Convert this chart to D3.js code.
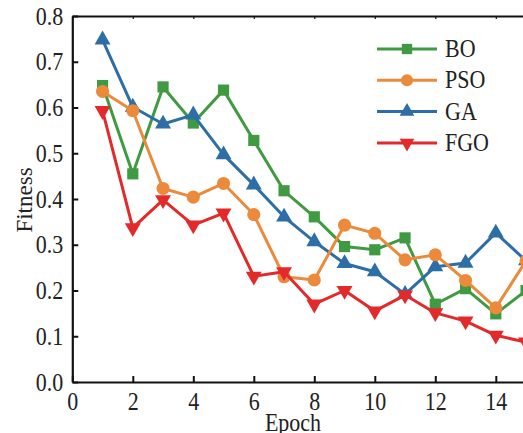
<!DOCTYPE html>
<html>
<head>
<meta charset="utf-8">
<script src="https://cdn.jsdelivr.net/npm/d3@7"></script>
<style>
  html, body { margin: 0; padding: 0; background: #fff; overflow: hidden; }
  svg { display: block; }
  text { font-family: "Liberation Serif", "Times New Roman", serif; fill: #222; }
</style>
</head>
<body>
<svg id="chart" width="523" height="433"></svg>
<script>
// Fitness per epoch for each optimiser
const epochs = [1, 2, 3, 4, 5, 6, 7, 8, 9, 10, 11, 12, 13, 14, 15];
const boValues  = [0.648, 0.455, 0.645, 0.566, 0.638, 0.528, 0.418, 0.361, 0.296, 0.289, 0.315, 0.170, 0.204, 0.149, 0.200];
const psoValues = [0.635, 0.593, 0.423, 0.404, 0.434, 0.366, 0.230, 0.223, 0.343, 0.325, 0.267, 0.278, 0.222, 0.162, 0.265];
const gaValues  = [0.748, 0.601, 0.564, 0.584, 0.497, 0.431, 0.361, 0.307, 0.259, 0.241, 0.192, 0.252, 0.260, 0.326, 0.265];
const fgoValues = [0.593, 0.337, 0.398, 0.343, 0.369, 0.231, 0.241, 0.170, 0.200, 0.155, 0.190, 0.151, 0.133, 0.102, 0.087];

const seriesNames = ["BO", "PSO", "GA", "FGO"];
const xTicks = [0, 2, 4, 6, 8, 10, 12, 14];
const yTicks = [0.0, 0.1, 0.2, 0.3, 0.4, 0.5, 0.6, 0.7, 0.8];

const series = [
  { name: "BO",  values: boValues,  color: "#3f9a42", symbol: d3.symbolSquare,   size: 125, rotate: 0 },
  { name: "PSO", values: psoValues, color: "#ec8a3c", symbol: d3.symbolCircle,   size: 135, rotate: 0 },
  { name: "GA",  values: gaValues,  color: "#2d6ea6", symbol: d3.symbolTriangle, size: 110, rotate: 0 },
  { name: "FGO", values: fgoValues, color: "#e3292a", symbol: d3.symbolTriangle, size: 110, rotate: 180 }
];
// drawing order (later on top)
const drawOrder = ["BO", "GA", "PSO", "FGO"];

const svg = d3.select("#chart");
const plotLeft = 72.3, plotTop = 16, plotBottom = 382, unit = 30.25;

const x = d3.scaleLinear().domain([0, 16]).range([plotLeft, plotLeft + 16 * unit]);
const y = d3.scaleLinear().domain([0, 0.8]).range([plotBottom, plotTop]);

const fontSize = 22;

// x axis
const gx = svg.append("g")
  .attr("transform", `translate(0,${plotBottom})`)
  .call(d3.axisBottom(x).tickValues(xTicks).tickFormat(d3.format("d")).tickSize(-6).tickSizeOuter(0));
gx.select(".domain").attr("stroke", "#111").attr("stroke-width", 2.2);
gx.selectAll(".tick line").attr("stroke", "#111").attr("stroke-width", 2);
gx.selectAll(".tick text")
  .attr("font-size", fontSize).attr("y", 0).attr("dy", null)
  .attr("transform", "translate(0,28) scale(1,1.12)")
  .style("font-family", "Liberation Serif");

// y axis
const gy = svg.append("g")
  .attr("transform", `translate(${plotLeft},0)`)
  .call(d3.axisLeft(y).tickValues(yTicks).tickFormat(d3.format(".1f")).tickSize(-6).tickSizeOuter(0));
gy.select(".domain").attr("stroke", "#111").attr("stroke-width", 2.2);
gy.selectAll(".tick line").attr("stroke", "#111").attr("stroke-width", 2);
gy.selectAll(".tick text")
  .attr("font-size", fontSize).attr("x", 0).attr("dy", null)
  .attr("transform", "translate(-9,8) scale(1,1.12)")
  .style("font-family", "Liberation Serif");

// top frame with small mirrored ticks
const gt = svg.append("g")
  .attr("transform", `translate(0,${plotTop})`)
  .call(d3.axisTop(x).tickValues(xTicks).tickFormat("").tickSize(-3).tickSizeOuter(0));
gt.select(".domain").attr("stroke", "#111").attr("stroke-width", 2.2);
gt.selectAll(".tick line").attr("stroke", "#111").attr("stroke-width", 1.2);

// axis titles
svg.append("text")
  .attr("transform", `translate(293,431) scale(1,1.12)`)
  .attr("text-anchor", "middle")
  .attr("font-size", fontSize)
  .text("Epoch");

svg.append("text")
  .attr("transform", `translate(32,200) rotate(-90)`)
  .attr("text-anchor", "middle")
  .attr("font-size", fontSize + 1)
  .text("Fitness");

// series lines and markers
const line = d3.line().x((d, i) => x(epochs[i])).y(d => y(d));
const byName = Object.fromEntries(series.map(s => [s.name, s]));

drawOrder.forEach(name => {
  const s = byName[name];
  const g = svg.append("g");
  g.append("path")
    .attr("d", line(s.values))
    .attr("fill", "none")
    .attr("stroke", s.color)
    .attr("stroke-width", 3)
    .attr("stroke-linejoin", "round");
  g.selectAll("path.m")
    .data(s.values)
    .join("path")
    .attr("class", "m")
    .attr("d", d3.symbol().type(s.symbol).size(s.size))
    .attr("transform", (d, i) => `translate(${x(epochs[i])},${y(d)}) rotate(${s.rotate})`)
    .attr("fill", s.color);
});

// legend
const legend = svg.append("g");
series.forEach((s, i) => {
  const ly = 49 + i * 31.3;
  legend.append("line")
    .attr("x1", 377).attr("x2", 437).attr("y1", ly).attr("y2", ly)
    .attr("stroke", s.color).attr("stroke-width", 3);
  legend.append("path")
    .attr("d", d3.symbol().type(s.symbol).size(s.size * 0.85))
    .attr("transform", `translate(407,${ly}) rotate(${s.rotate})`)
    .attr("fill", s.color);
  legend.append("text")
    .attr("transform", `translate(445,${ly + 8}) scale(1,1.12)`)
    .attr("font-size", fontSize)
    .text(seriesNames[i]);
});
</script>
</body>
</html>
